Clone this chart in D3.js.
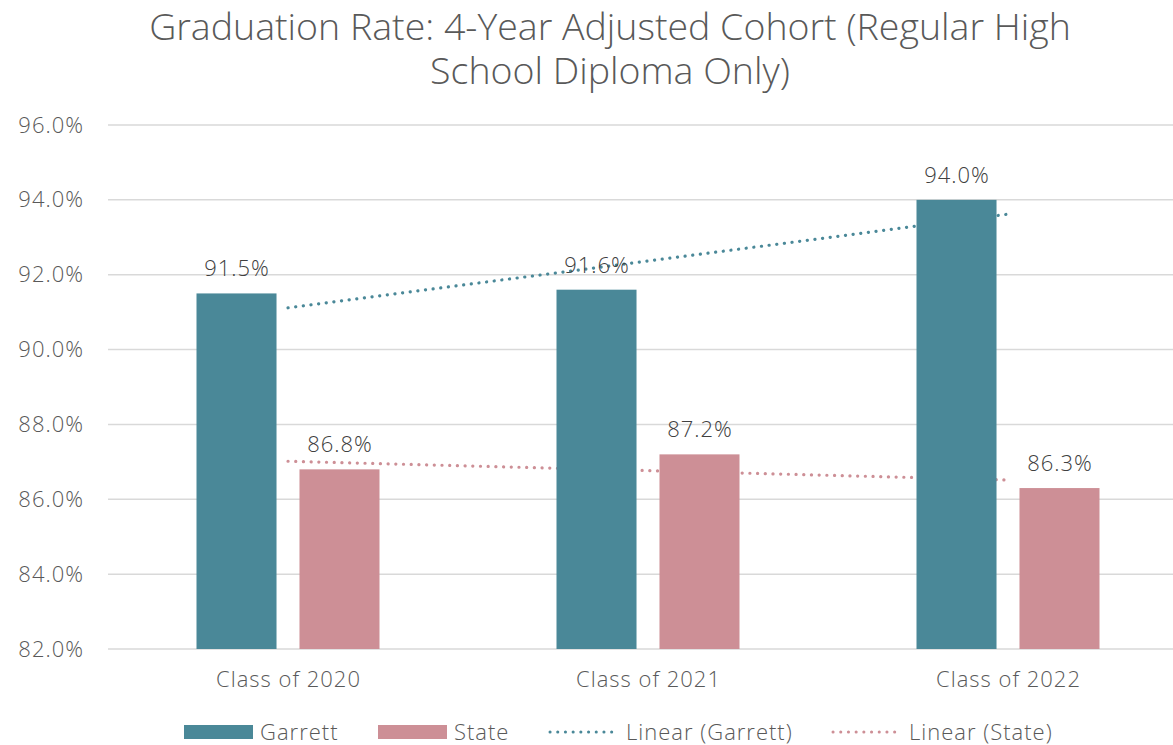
<!DOCTYPE html>
<html>
<head>
<meta charset="utf-8">
<script src="https://cdn.jsdelivr.net/npm/d3@7"></script>
<style>
  html, body { margin: 0; padding: 0; background: #fff; }
  svg { display: block; font-family: "Open Sans", Lato, sans-serif; }
</style>
</head>
<body>
<svg id="chart" width="1173" height="745"></svg>
<script>
// data
var categories = ["Class of 2020", "Class of 2021", "Class of 2022"];
var seriesNames = ["Garrett", "State"];
var garrett = [91.5, 91.6, 94.0];
var state = [86.8, 87.2, 86.3];
var yTicks = [82, 84, 86, 88, 90, 92, 94, 96];

var colors = { Garrett: "#4a8898", State: "#cd8f96" };
var textColor = "#595959";

var svg = d3.select("#chart");
var W = 1173, H = 745;

var y = d3.scaleLinear().domain([82, 96]).range([649, 125]);
var x0 = d3.scaleBand().domain(categories).range([108, 1188]);
var x1 = d3.scaleBand().domain(seriesNames).range([88.5, 271.5]).paddingInner(0.223);

var values = { Garrett: garrett, State: state };

// shared small-text style
function smallText(sel) {
  return sel.attr("font-size", 22)
    .attr("font-weight", 300)
    .attr("letter-spacing", 1);
}

// title
var title = svg.append("text")
  .attr("x", 610)
  .attr("text-anchor", "middle")
  .attr("fill", textColor)
  .attr("font-size", 37.5)
  .attr("font-weight", 300);
title.append("tspan").attr("x", 610).attr("y", 40).text("Graduation Rate: 4-Year Adjusted Cohort (Regular High");
title.append("tspan").attr("x", 610).attr("y", 84).text("School Diploma Only)");

// gridlines
svg.append("g").selectAll("line")
  .data(yTicks)
  .enter()
  .append("line")
  .attr("x1", 108)
  .attr("x2", W)
  .attr("y1", function(d) { return y(d); })
  .attr("y2", function(d) { return y(d); })
  .attr("stroke", "#d9d9d9")
  .attr("stroke-width", 1.5);

// y labels
svg.append("g").selectAll("text")
  .data(yTicks)
  .enter()
  .append("text")
  .attr("x", 84)
  .attr("y", function(d) { return y(d) + 7.5; })
  .attr("text-anchor", "end")
  .attr("fill", textColor)
  .call(smallText)
  .text(function(d) { return d.toFixed(1) + "%"; });

// linear trendlines (least squares over category index)
function fit(vals) {
  var n = vals.length, xs = d3.range(1, n + 1);
  var mx = d3.mean(xs), my = d3.mean(vals);
  var num = 0, den = 0;
  for (var i = 0; i < n; i++) {
    num += (xs[i] - mx) * (vals[i] - my);
    den += (xs[i] - mx) * (xs[i] - mx);
  }
  var b = num / den, a = my - b * mx;
  return [{ i: 0, v: a + b * 1 }, { i: n - 1, v: a + b * n }];
}

var trendLine = d3.line()
  .x(function(d) { return x0(categories[d.i]) + x0.bandwidth() / 2; })
  .y(function(d) { return y(d.v); });

seriesNames.forEach(function(s) {
  svg.append("path")
    .datum(fit(values[s]))
    .attr("d", trendLine)
    .attr("fill", "none")
    .attr("stroke", colors[s])
    .attr("stroke-width", 3.2)
    .attr("stroke-linecap", "round")
    .attr("stroke-dasharray", "0.1 7.6");
});

// bars
var groups = svg.append("g").selectAll("g")
  .data(categories)
  .enter()
  .append("g")
  .attr("transform", function(d) { return "translate(" + x0(d) + ",0)"; });

groups.selectAll("rect")
  .data(function(d, i) { return seriesNames.map(function(s) { return { s: s, v: values[s][i] }; }); })
  .enter()
  .append("rect")
  .attr("x", function(d) { return x1(d.s); })
  .attr("y", function(d) { return y(d.v); })
  .attr("width", x1.bandwidth())
  .attr("height", function(d) { return y(82) - y(d.v); })
  .attr("fill", function(d) { return colors[d.s]; });

// data labels
groups.selectAll("text")
  .data(function(d, i) { return seriesNames.map(function(s) { return { s: s, v: values[s][i] }; }); })
  .enter()
  .append("text")
  .attr("x", function(d) { return x1(d.s) + x1.bandwidth() / 2 + 0.5; })
  .attr("y", function(d) { return y(d.v) - 17; })
  .attr("text-anchor", "middle")
  .attr("fill", "#404040")
  .call(smallText)
  .text(function(d) { return d.v.toFixed(1) + "%"; });

// category labels
svg.append("g").selectAll("text")
  .data(categories)
  .enter()
  .append("text")
  .attr("x", function(d) { return x0(d) + x0.bandwidth() / 2 + 0.5; })
  .attr("y", 687)
  .attr("text-anchor", "middle")
  .attr("fill", textColor)
  .call(smallText)
  .text(function(d) { return d; });

// legend
var legendItems = [
  { label: "Garrett", key: "Garrett", type: "rect", x: 184 },
  { label: "State", key: "State", type: "rect", x: 378 },
  { label: "Linear (Garrett)", key: "Garrett", type: "line", x: 548 },
  { label: "Linear (State)", key: "State", type: "line", x: 831 }
];
var ly = 732;
var legend = svg.append("g").selectAll("g")
  .data(legendItems)
  .enter()
  .append("g")
  .attr("transform", function(d) { return "translate(" + d.x + "," + ly + ")"; });

legend.filter(function(d) { return d.type === "rect"; })
  .append("rect")
  .attr("x", 0).attr("y", -7)
  .attr("width", 69).attr("height", 14)
  .attr("fill", function(d) { return colors[d.key]; });

legend.filter(function(d) { return d.type === "line"; })
  .append("line")
  .attr("x1", 2).attr("x2", 70)
  .attr("y1", 0).attr("y2", 0)
  .attr("stroke", function(d) { return colors[d.key]; })
  .attr("stroke-width", 3)
  .attr("stroke-linecap", "round")
  .attr("stroke-dasharray", "0.1 7.6");

legend.append("text")
  .attr("x", function(d) { return d.type === "rect" ? 76 : 78; })
  .attr("y", 8)
  .attr("fill", textColor)
  .call(smallText)
  .text(function(d) { return d.label; });
</script>
</body>
</html>
